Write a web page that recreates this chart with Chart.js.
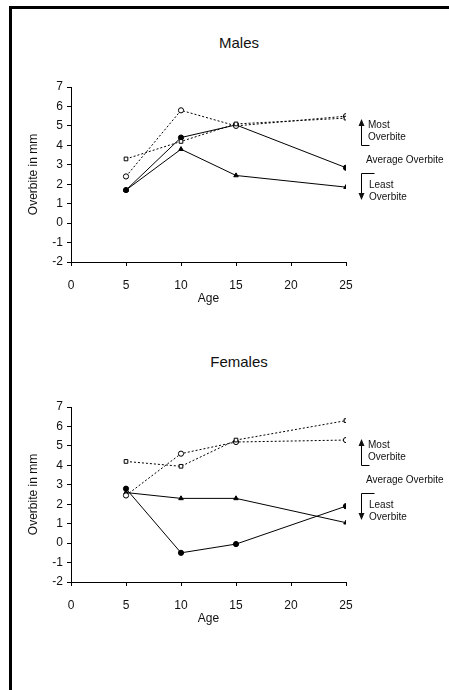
<!DOCTYPE html>
<html><head><meta charset="utf-8">
<script src="https://cdn.jsdelivr.net/npm/chart.js@4.4.0/dist/chart.umd.min.js"></script>
<style>
html,body{margin:0;padding:0;background:#fff;width:449px;height:690px;overflow:hidden;font-family:"Liberation Sans",Arial,sans-serif;}
#fl{position:absolute;left:9px;top:6px;width:3px;height:684px;background:#000;}
#ft{position:absolute;left:9px;top:6px;width:440px;height:3px;background:#000;}
.box{position:absolute;left:0;width:449px;height:310px;}
.ttl{position:absolute;left:0;width:478px;text-align:center;font-size:15px;color:#111;}
</style></head><body>
<div id="fl"></div><div id="ft"></div>
<div class="ttl" style="top:34px">Males</div>
<div class="ttl" style="top:353px">Females</div>
<div class="box" style="top:0"><canvas id="c1" width="449" height="310"></canvas></div>
<div class="box" style="top:320px"><canvas id="c2" width="449" height="310"></canvas></div>
<script>
const ages = [5, 10, 15, 25];
const xTicks = [0, 5, 10, 15, 20, 25];
const yTicks = [-2, -1, 0, 1, 2, 3, 4, 5, 6, 7];
// Males
const maleMostSquare = [3.3, 4.2, 5.1, 5.4];
const maleMostCircle = [2.4, 5.8, 5.0, 5.5];
const maleAverage = [1.7, 4.4, 5.05, 2.85];
const maleLeast = [1.7, 3.8, 2.45, 1.85];
// Females
const femaleMostSquare = [4.2, 3.95, 5.3, 6.3];
const femaleMostCircle = [2.45, 4.6, 5.2, 5.3];
const femaleAverage = [2.8, -0.5, -0.05, 1.9];
const femaleLeast = [2.6, 2.3, 2.3, 1.05];

function pts(v){ return ages.map((a,i)=>({x:a,y:v[i]})); }

const notes = {
  id:'notes',
  afterDraw(chart){
    const c = chart.ctx, a = chart.chartArea;
    const r = a.right, t = a.top;
    c.save();
    c.strokeStyle='#000'; c.fillStyle='#111'; c.lineWidth=1;
    const ax = r + 15.5;
    c.beginPath(); c.moveTo(ax, t+58.5); c.lineTo(ax, t+36); c.moveTo(ax, t+58.5); c.lineTo(ax+8, t+58.5); c.stroke();
    c.beginPath(); c.moveTo(ax, t+32); c.lineTo(ax-3, t+39); c.lineTo(ax+3, t+39); c.closePath(); c.fill();
    c.beginPath(); c.moveTo(ax+13, t+86.5); c.lineTo(ax, t+86.5); c.lineTo(ax, t+108); c.stroke();
    c.beginPath(); c.moveTo(ax, t+113); c.lineTo(ax-3, t+106); c.lineTo(ax+3, t+106); c.closePath(); c.fill();
    c.font='10px "Liberation Sans", Arial, sans-serif';
    c.textBaseline='middle'; c.textAlign='left';
    c.fillText('Most', r+22, t+38);
    c.fillText('Overbite', r+22, t+50);
    c.fillText('Average Overbite', r+20, t+73);
    c.fillText('Least', r+23, t+98);
    c.fillText('Overbite', r+23, t+110);
    c.restore();
  }
};

function makeChart(id, sq, ci, av, le){
  const common = {borderColor:'#000', borderWidth:1, pointRadius:2.6, pointBorderWidth:1, pointBorderColor:'#000', tension:0, fill:false};
  const f = {size:12, family:'"Liberation Sans", Arial'};
  new Chart(document.getElementById(id), {
    type:'line',
    data:{datasets:[
      Object.assign({label:'Most (square)', data:pts(sq), borderDash:[2,2], pointStyle:'rect', pointBackgroundColor:'#fff'}, common),
      Object.assign({label:'Most (circle)', data:pts(ci), borderDash:[2,2], pointStyle:'circle', pointBackgroundColor:'#fff'}, common),
      Object.assign({label:'Average', data:pts(av), pointStyle:'circle', pointBackgroundColor:'#000'}, common),
      Object.assign({label:'Least', data:pts(le), pointStyle:'triangle', pointBackgroundColor:'#000', pointRadius:3}, common)
    ]},
    options:{
      responsive:false, animation:false,
      layout:{padding:{left:26, top:87, right:103, bottom:4}},
      plugins:{legend:{display:false}, tooltip:{enabled:false}, title:{display:false}},
      scales:{
        x:{type:'linear', min:0, max:25,
          afterBuildTicks(s){ s.ticks = xTicks.map(v=>({value:v})); },
          afterFit(s){ s.height = 44; },
          grid:{drawOnChartArea:false, drawTicks:true, tickLength:4, color:'#000'},
          border:{color:'#000', width:1},
          ticks:{color:'#111', font:f, padding:12, maxRotation:0},
          title:{display:true, text:'Age', color:'#111', font:f, padding:{top:0,bottom:0}}
        },
        y:{type:'linear', min:-2, max:7,
          afterBuildTicks(s){ s.ticks = yTicks.map(v=>({value:v})); },
          afterFit(s){ s.width = 45; },
          grid:{drawOnChartArea:false, drawTicks:true, tickLength:4, color:'#000'},
          border:{color:'#000', width:1},
          ticks:{color:'#111', font:f, padding:4},
          title:{display:true, text:'Overbite in mm', color:'#111', font:f, padding:{top:0,bottom:0}}
        }
      }
    },
    plugins:[notes]
  });
}
makeChart('c1', maleMostSquare, maleMostCircle, maleAverage, maleLeast);
makeChart('c2', femaleMostSquare, femaleMostCircle, femaleAverage, femaleLeast);
</script>
</body></html>
